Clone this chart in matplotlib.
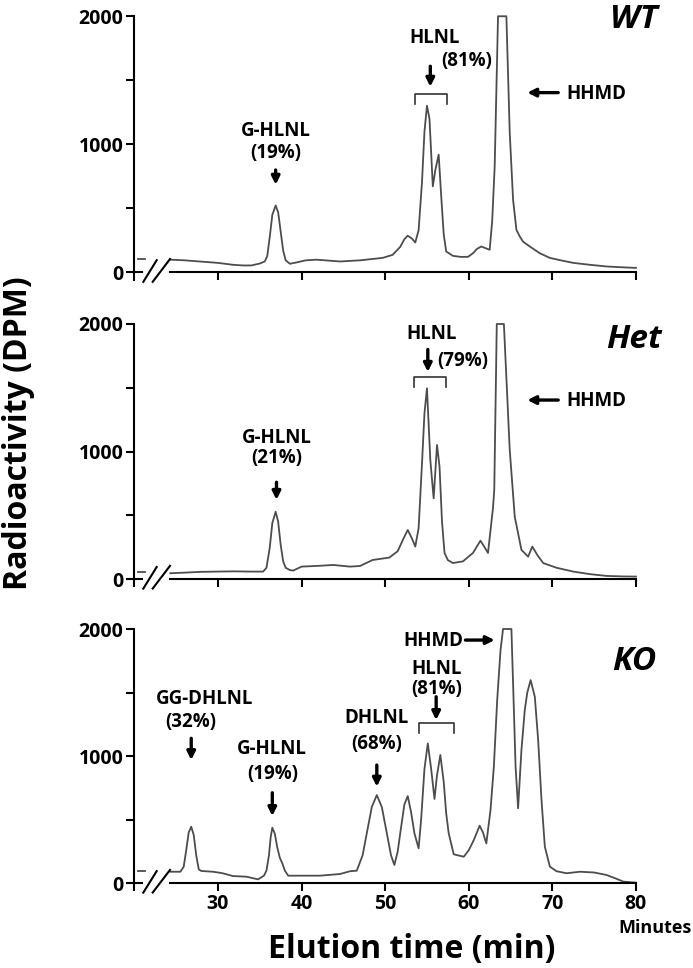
import matplotlib
matplotlib.use('Agg')
import matplotlib.pyplot as plt

plt.rcParams['font.family'] = ['Open Sans', 'DejaVu Sans']
plt.rcParams['font.weight'] = 'bold'

# elution time (min) and radioactivity (DPM)
wt_t = [24.3, 26, 28, 30, 31.8, 33.0, 34.0, 35.0, 35.6, 35.9, 36.2, 36.5, 36.9, 37.2,
        37.5, 37.8, 38.1, 38.6, 39.5, 40.5, 41.8, 44.6, 47.0, 49.7, 50.9, 51.8, 52.3,
        52.7, 53.2, 53.6, 54.0, 54.4, 54.7, 55.0, 55.3, 55.7, 56.0, 56.4, 56.7, 57.0,
        57.3, 58.1, 59.0, 59.9, 60.5, 61.0, 61.5, 62.0, 62.5, 62.8, 63.1, 63.5, 64.5,
        64.9, 65.3, 65.7, 66.1, 66.5, 67.3, 68.5, 69.7, 71.0, 72.5, 74.5, 76.5, 78.5,
        80.0]
wt_v = [100, 95, 85, 75, 60, 55, 55, 70, 86, 130, 280, 450, 523, 470,
        320, 170, 95, 68, 80, 95, 100, 86, 95, 114, 138, 200, 260,
        287, 265, 234, 330, 700, 1100, 1302, 1200, 672, 800, 920, 600, 300,
        164, 130, 122, 122, 150, 185, 203, 190, 177, 400, 828, 2000, 2000,
        1090, 568, 333, 281, 240, 203, 150, 114, 95, 75, 60, 47, 40,
        36]

het_t = [24.3, 26, 28, 29.8, 32, 34, 35.4, 35.8, 36.2, 36.5, 36.9, 37.2, 37.5, 37.8,
         38.1, 38.6, 39.0, 40.0, 42, 43.8, 45.8, 47.0, 48.5, 50.5, 51.5, 52.2, 52.7,
         53.2, 53.6, 54.0, 54.4, 54.7, 55.0, 55.4, 55.8, 56.2, 56.5, 56.8, 57.1, 57.5,
         58.1, 59.3, 60.5, 61.0, 61.4, 61.9, 62.3, 62.9, 63.05, 63.35, 64.2, 64.9, 65.5,
         66.3, 67.1, 67.6, 68.2, 68.9, 70.5, 72.5, 74.5, 76.5, 78.5, 80.0]
het_v = [47, 52, 58, 60, 62, 60, 60, 90, 250, 440, 529, 450, 270, 140,
         90, 72, 68, 99, 105, 112, 99, 104, 151, 170, 220, 320, 386,
         320, 256, 400, 900, 1300, 1496, 934, 634, 1052, 884, 450, 206, 150,
         127, 140, 206, 260, 302, 250, 206, 560, 700, 2000, 2000, 1013, 490,
         230, 177, 256, 190, 127, 90, 60, 40, 26, 22, 21]

ko_t = [24.3, 25.5, 25.9, 26.2, 26.5, 26.8, 27.1, 27.4, 27.7, 28.0, 29.4, 30.5, 31.8,
        33.4, 34.8, 35.5, 35.8, 36.1, 36.3, 36.5, 36.8, 37.1, 37.4, 37.7, 38.0, 38.4,
        40, 42.2, 44.6, 45.8, 46.6, 47.3, 47.8, 48.4, 49.0, 49.6, 50.2, 50.7, 51.1,
        51.5, 51.8, 52.3, 52.7, 53.1, 53.5, 54.0, 54.3, 54.7, 55.1, 55.5, 55.9, 56.2,
        56.6, 57.0, 57.3, 57.6, 58.2, 59.4, 60.0, 60.6, 61.3, 61.7, 62.1, 62.6, 63.0,
        63.4, 63.8, 64.1, 65.1, 65.3, 65.6, 65.9, 66.3, 66.7, 67.0, 67.4, 67.9, 68.3,
        68.7, 69.1, 69.7, 70.5, 71.7, 73.3, 75.0, 76.5, 77.5, 78.5, 80.0]
ko_v = [91, 91, 130, 260, 400, 445, 380, 220, 110, 97, 91, 80, 57,
        52, 31, 60, 100, 220, 360, 437, 390, 280, 200, 157, 100, 60,
        60, 60, 73, 95, 99, 220, 393, 600, 694, 600, 393, 220, 144,
        250, 393, 620, 686, 560, 393, 275, 500, 900, 1100, 900, 663, 850,
        1009, 800, 550, 393, 228, 209, 260, 340, 453, 400, 314, 576, 917,
        1441, 1834, 2000, 2000, 1573, 917, 590, 1048, 1363, 1500, 1598, 1467, 1127,
        655, 288, 131, 95, 79, 91, 85, 65, 40, 13, 5]

# the short trace stub drawn left of the axis break
stub_t = [20.4, 21.3]
stub_v = {'WT': [105, 105], 'Het': [60, 60], 'KO': [99, 99]}

panels = ['WT', 'Het', 'KO']
traces = {'WT': (wt_t, wt_v), 'Het': (het_t, het_v), 'KO': (ko_t, ko_v)}
x_ticks = [30, 40, 50, 60, 70, 80]

fig = plt.figure(figsize=(6.93, 9.68), dpi=100)
boxes = [[0.1939, 0.7185, 0.7238, 0.2647],
         [0.1939, 0.4016, 0.7238, 0.2637],
         [0.1939, 0.0875, 0.7238, 0.2627]]

line_col = '#4d4d4d'
lab_fs = 13.5


def down_arrow(ax, x, y0, y1):
    ax.annotate('', xy=(x, y1), xytext=(x, y0),
                arrowprops=dict(arrowstyle='-|>', color='black', lw=2.4,
                                mutation_scale=12, shrinkA=0, shrinkB=0))


def side_arrow(ax, x0, x1, y):
    ax.annotate('', xy=(x1, y), xytext=(x0, y),
                arrowprops=dict(arrowstyle='-|>', color='black', lw=2.4,
                                mutation_scale=12, shrinkA=0, shrinkB=0))


def bracket(ax, x0, x1, top, bottom):
    ax.plot([x0, x0, x1, x1], [bottom, top, top, bottom], color='#333333', lw=1.2)


def label(ax, x, y, s, ha='center'):
    # y is the visual middle of the capitals, shift to the baseline
    ax.text(x, y - 47, s, ha=ha, va='baseline', fontsize=lab_fs, fontweight='bold')


axes = []
for name, box in zip(panels, boxes):
    ax = fig.add_axes(box)
    t, v = traces[name]
    ax.plot(t, v, color=line_col, lw=1.3, clip_on=False)
    ax.plot(stub_t, stub_v[name], color=line_col, lw=1.3, clip_on=False)

    ax.set_xlim(20, 80)
    ax.set_ylim(0, 2000)
    ax.set_yticks([0, 1000, 2000])
    ax.set_yticks([500, 1500], minor=True)
    ax.set_xticks(x_ticks)
    for s in ['top', 'right', 'bottom']:
        ax.spines[s].set_visible(False)
    ax.spines['left'].set_linewidth(1.5)
    ax.spines['left'].set_bounds(-55, 2000)
    ax.tick_params(which='both', direction='out', length=6, width=1.5,
                   labelsize=14, pad=2)

    # x axis drawn by hand because of the break
    ax.plot([20, 20.9], [0, 0], color='black', lw=1.5, clip_on=False)
    ax.plot([24.25, 80], [0, 0], color='black', lw=1.5, clip_on=False)
    ax.plot([21.07, 22.67], [-73, 96], color='black', lw=1.5, clip_on=False)
    ax.plot([22.19, 24.26], [-73, 105], color='black', lw=1.5, clip_on=False)
    for lab in ax.get_yticklabels():
        lab.set_fontweight('bold')
    if name != 'KO':
        ax.set_xticklabels([])
    else:
        for lab in ax.get_xticklabels():
            lab.set_fontweight('bold')
    axes.append(ax)

ax_wt, ax_het, ax_ko = axes

label(ax_wt, 36.9, 1115, 'G-HLNL')
label(ax_wt, 36.9, 943, '(19%)')
down_arrow(ax_wt, 36.9, 800, 685)
label(ax_wt, 55.9, 1842, 'HLNL')
label(ax_wt, 59.7, 1660, '(81%)')
down_arrow(ax_wt, 55.4, 1610, 1450)
bracket(ax_wt, 53.6, 57.4, 1396, 1318)
side_arrow(ax_wt, 70.7, 67.0, 1404)
label(ax_wt, 71.7, 1404, 'HHMD', ha='left')

label(ax_het, 37.0, 1117, 'G-HLNL')
label(ax_het, 37.0, 960, '(21%)')
down_arrow(ax_het, 37.0, 760, 622)
label(ax_het, 55.5, 1929, 'HLNL')
label(ax_het, 59.3, 1717, '(79%)')
down_arrow(ax_het, 55.1, 1800, 1625)
bracket(ax_het, 53.5, 57.3, 1582, 1503)
side_arrow(ax_het, 70.7, 67.0, 1404)
label(ax_het, 71.7, 1404, 'HHMD', ha='left')

label(ax_ko, 28.4, 1457, 'GG-DHLNL')
label(ax_ko, 26.8, 1278, '(32%)')
down_arrow(ax_ko, 26.8, 1140, 969)
label(ax_ko, 36.5, 1061, 'G-HLNL')
label(ax_ko, 36.5, 865, '(19%)')
down_arrow(ax_ko, 36.5, 712, 529)
label(ax_ko, 49.0, 1310, 'DHLNL')
label(ax_ko, 49.0, 1100, '(68%)')
down_arrow(ax_ko, 49.0, 930, 760)
label(ax_ko, 56.2, 1690, 'HLNL')
label(ax_ko, 56.2, 1533, '(81%)')
down_arrow(ax_ko, 56.1, 1467, 1284)
bracket(ax_ko, 54.1, 58.2, 1263, 1184)
side_arrow(ax_ko, 59.6, 63.1, 1913)
label(ax_ko, 59.3, 1913, 'HHMD', ha='right')

for ax, name, y in [(ax_wt, 'WT', 1912), (ax_het, 'Het', 1809), (ax_ko, 'KO', 1677)]:
    ax.text(79.8, y, name, ha='center', va='baseline', fontsize=24,
            fontweight='bold', fontstyle='italic', clip_on=False)

ax_ko.text(82.3, -351, 'Minutes', ha='center', va='center', fontsize=13,
           fontweight='bold', clip_on=False)

fig.text(0.026, 0.5527, 'Radioactivity (DPM)', rotation=90, ha='center',
         va='center', fontsize=23, fontweight='bold')
fig.text(0.594, 0.0186, 'Elution time (min)', ha='center', va='center',
         fontsize=23, fontweight='bold')

fig.savefig('out.png', dpi=100)
